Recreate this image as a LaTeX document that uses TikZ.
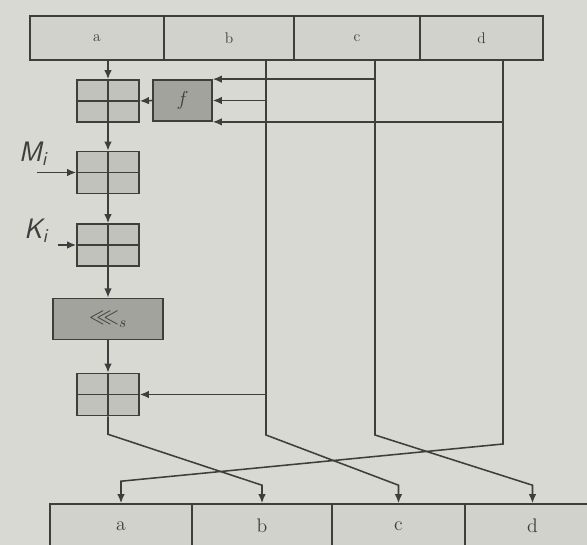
\documentclass[tikz,border=0pt]{standalone}
\usepackage{amsmath,amssymb}
\usepackage{xcolor}
\usepackage{tikz}
\usetikzlibrary{arrows.meta,calc,positioning}
\definecolor{Ink}{HTML}{3E3E3C}
\definecolor{Paper}{HTML}{D9D9D3}
\definecolor{Cell}{HTML}{D2D2CC}
\definecolor{Light}{HTML}{C2C2BC}
\definecolor{Dark}{HTML}{A3A39D}

\begin{document}
\begin{tikzpicture}[
  x=0.025cm,y=-0.025cm,
  color=Ink,line width=1.1pt,
  reg/.style={draw=Ink,fill=Cell,minimum height=11mm,inner sep=0pt},
  adder/.style={draw=Ink,fill=Light,minimum width=15.5mm,minimum height=10.5mm,
    path picture={
      \draw[Ink] (path picture bounding box.west)--(path picture bounding box.east);
      \draw[Ink] (path picture bounding box.north)--(path picture bounding box.south);}},
  logic/.style={draw=Ink,fill=Dark,minimum height=10.3mm,inner sep=0pt},
  side/.style={font=\fontsize{20}{22}\sffamily\slshape},
  arr/.style={-{Latex[length=2.3mm,width=1.9mm]},draw=Ink}
]
\fill[Paper] (0,0) rectangle (587,545);
\useasboundingbox (0,0) rectangle (587,545);

% Input words a, b, c, d.
\foreach \n/\l/\r in {a/30/164,b/164/294,c/294/420,d/420/543}
  \node[reg,minimum width={(\r-\l)*0.025cm},font=\fontsize{11}{13}\selectfont]
    (t\n) at ({(\l+\r)/2},38) {\n};

% Output words, shifted by one.
\foreach \n/\l/\r in {a/50/192,b/192/332,c/332/465,d/465/600}
  \node[reg,minimum width={(\r-\l)*0.025cm},font=\fontsize{14}{16}\selectfont]
    (o\n) at ({(\l+\r)/2},526) {\n};

% Chain on word a.
\node[adder] (p1) at (108,101) {};
\node[logic,minimum width=14.75mm,font=\fontsize{14}{16}\selectfont]
  (f) at (182.5,100.5) {$f$};
\node[adder] (p2) at (108,172.5) {};
\node[adder] (p3) at (108,245) {};
\node[logic,minimum width=27.5mm,font=\fontsize{16}{18}\selectfont]
  (rot) at (108,319) {$\lll_s$};
\node[adder] (p4) at (108,394.5) {};

\draw[arr] (ta.south -| p1) -- (p1.north);
\foreach \u/\v in {p1/p2,p2/p3,p3/rot,rot/p4}
  \draw[arr] (\u.south) -- (\v.north);
\draw[arr] (f.west) -- (p1.east);

% Message word and constant.
\coordinate (min) at (37,172.5);
\coordinate (kin) at (58,245);
\node[side] (mlab) at (33,154) {M\textsubscript{i}};
\node[side] (klab) at (36,231) {K\textsubscript{i}};
\draw[arr] (min) -- (p2.west);
\draw[arr] (kin) -- (p3.west);

% Words b, c, d feed f.
\coordinate (btop) at (266,60);
\coordinate (ctop) at (375,60);
\coordinate (dtop) at (503,60);
\draw[arr] (ctop |- f.north east) -- (f.north east);
\draw[arr] (btop |- f.east) -- (f.east);
\draw[arr] (dtop |- f.south east) -- (f.south east);
\draw[arr] (btop |- p4.east) -- (p4.east);

% Rotate the words into the output.
\draw[arr] (p4.south) -- ++(0,18) -- ([yshift=4.5mm]ob.north) -- (ob.north);
\draw[arr] (btop) -- ++(0,375) -- ([yshift=4.5mm]oc.north) -- (oc.north);
\draw[arr] (ctop) -- ++(0,375) -- ([yshift=4.5mm]od.north) -- (od.north);
\draw[arr] (dtop) -- ++(0,384) -- ([yshift=5.5mm]oa.north) -- (oa.north);
\end{tikzpicture}
\end{document}
